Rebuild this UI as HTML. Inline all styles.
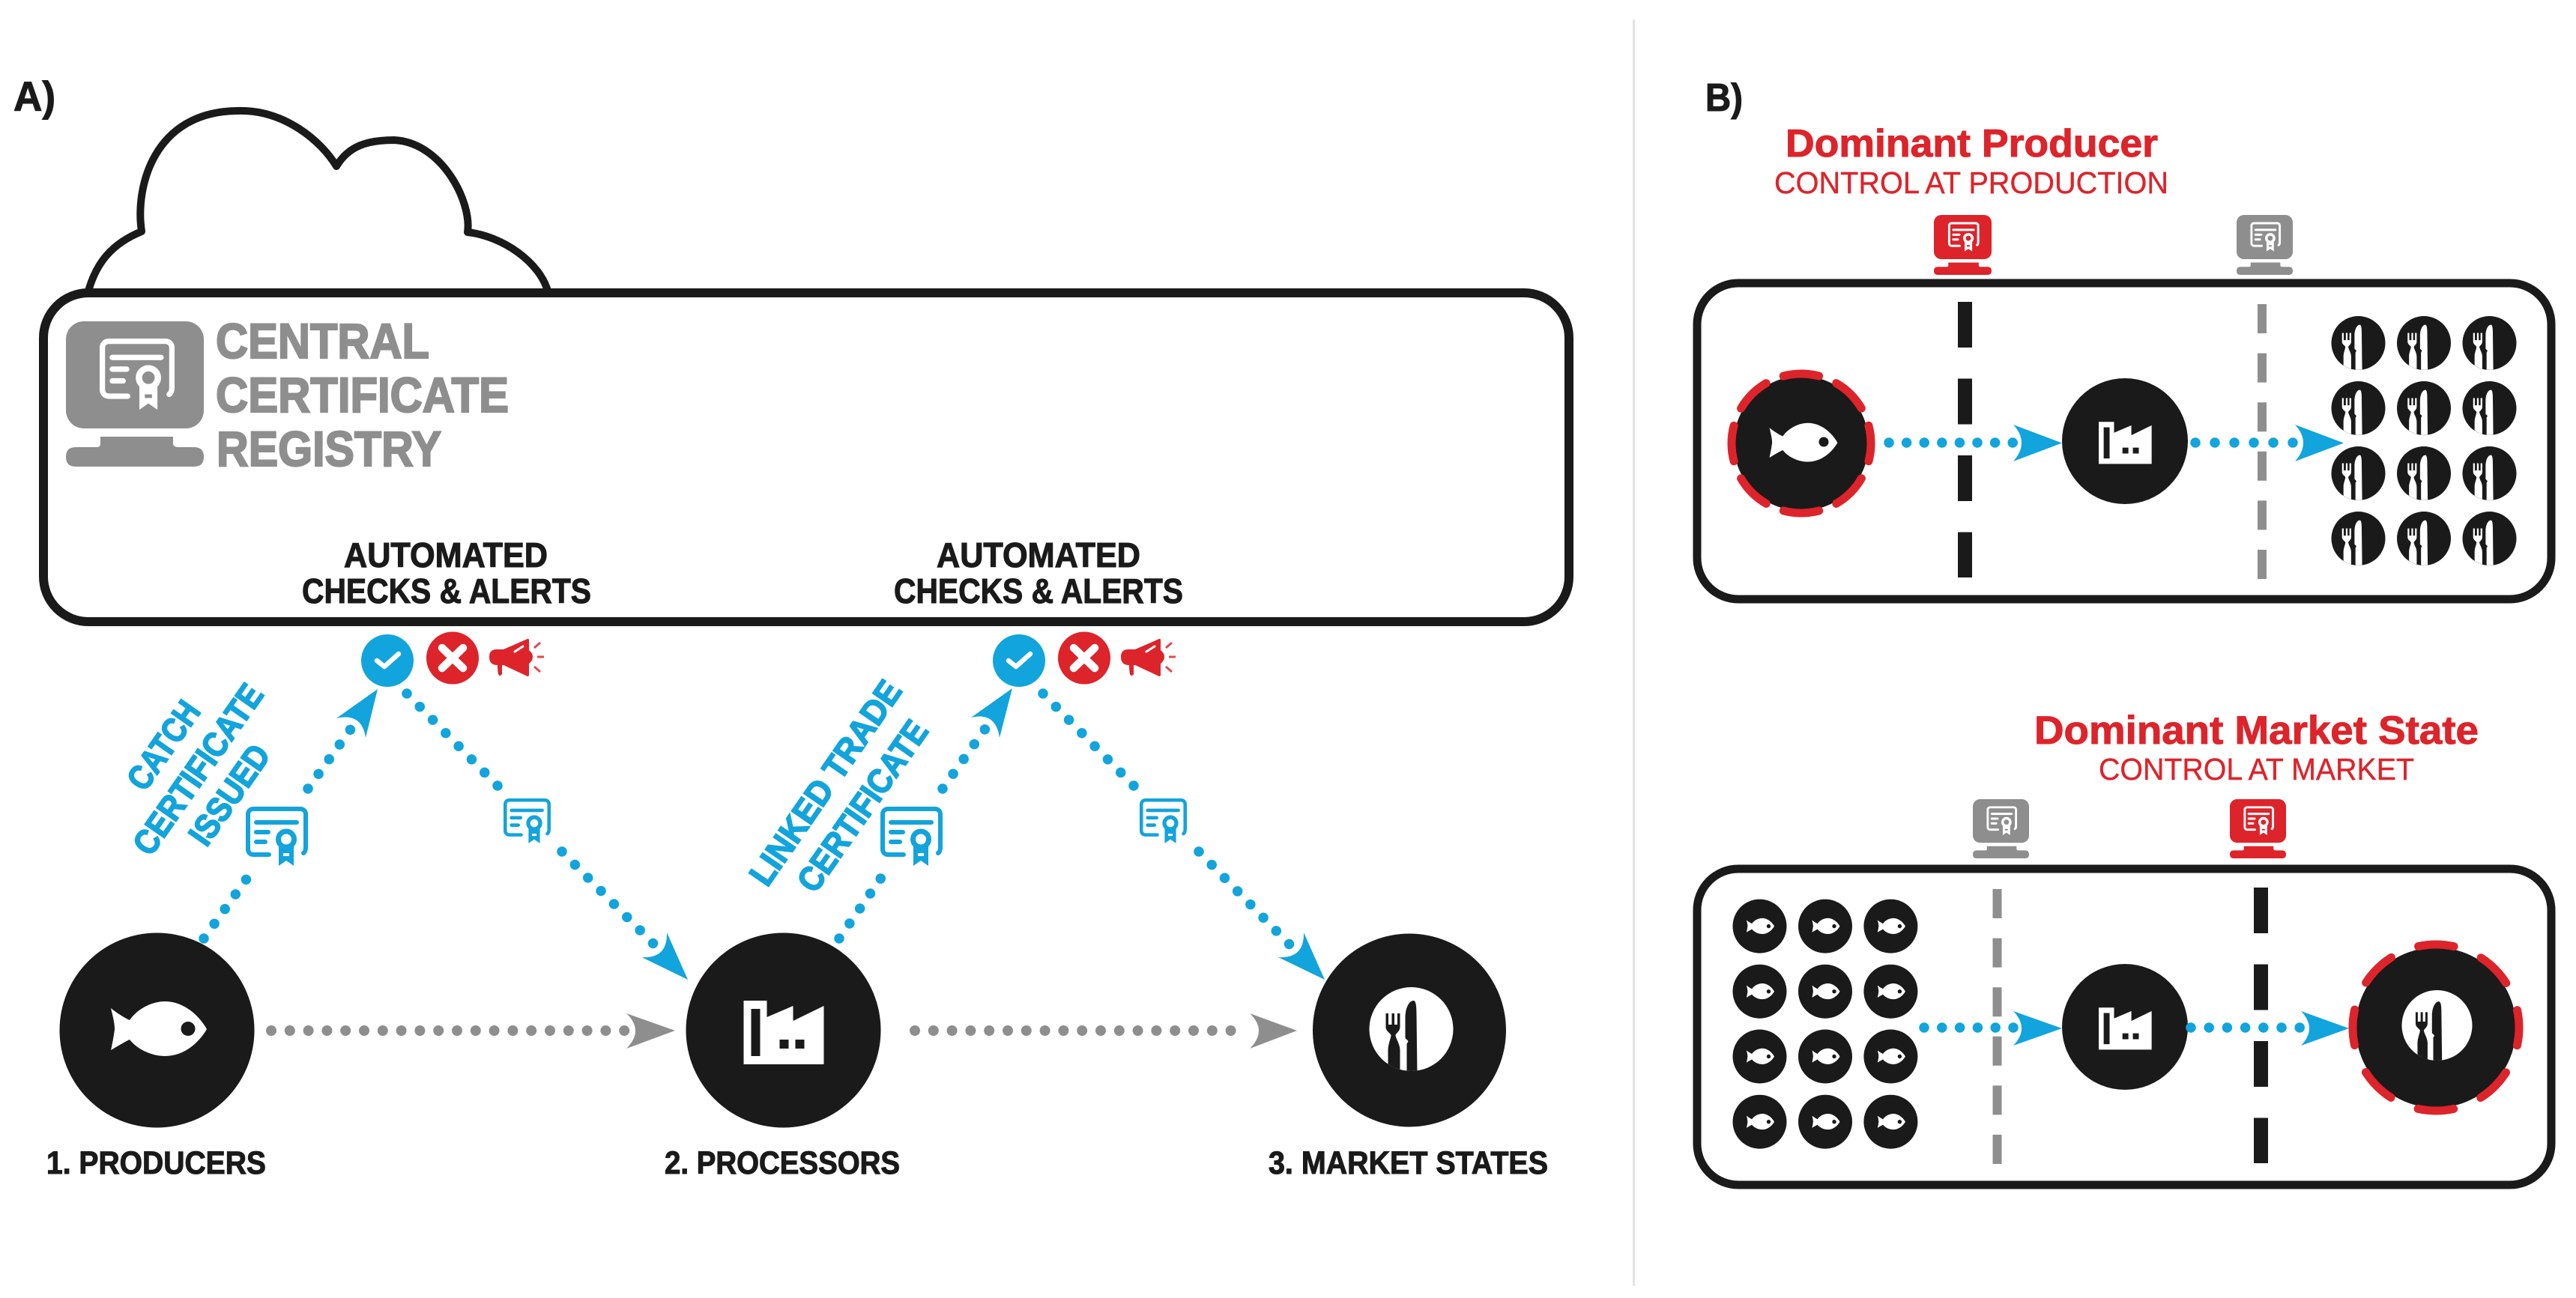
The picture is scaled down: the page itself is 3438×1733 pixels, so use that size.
<!DOCTYPE html>
<html><head><meta charset="utf-8"><style>
html,body{margin:0;padding:0;background:#fff}
svg{display:block}
text{font-family:"Liberation Sans",sans-serif;font-weight:700}
.k{fill:#1b1a1a}.g{fill:#8e8e8e}.b{fill:#12a4dc}.r{fill:#dd242b}
text.k{stroke:#1b1a1a;stroke-width:1.1}
text.g{stroke:#8e8e8e;stroke-width:2.2}
text.r{stroke:#dd242b;stroke-width:1}
text.r.l{stroke-width:.4;font-weight:400}
g.b text{stroke:#12a4dc;stroke-width:1.8}
.db,.dg{fill:none;stroke-linecap:round}
.db{stroke:#12a4dc;stroke-width:13.5}
.dg{stroke:#8e8e8e;stroke-width:14;stroke-dasharray:0 24.8}
</style></head><body>
<svg xmlns="http://www.w3.org/2000/svg" width="3438" height="1733" viewBox="0 0 3438 1733">
<defs>
<clipPath id="pc"><circle cx="0" cy="0" r="56"/></clipPath>
<symbol id="cert" viewBox="0 0 83 79" preserveAspectRatio="none">
<g fill="none" stroke="currentColor" stroke-width="6" stroke-linecap="round">
<path d="M31 64H10a7 7 0 0 1-7-7V10a7 7 0 0 1 7-7H73a7 7 0 0 1 7 7V54q0 6-3 8"/>
<path d="M14 21H68M14 34H30M14 47H26"/>
<circle cx="54" cy="43.5" r="10.5" stroke-width="7"/>
</g>
<path fill="currentColor" fill-rule="evenodd" d="M44 52H64V79L54 72 44 79ZM50 62H58V66H50Z"/>
</symbol>
<symbol id="mon" viewBox="0 0 184 194" preserveAspectRatio="none">
<rect x="0" y="0" width="184" height="143" rx="24" fill="currentColor"/>
<path d="M46 154H143V164Q144 168 150 168H171Q184 168 184 181 184 194 171 194H13Q0 194 0 181 0 168 13 168H40Q46 168 46 164Z" fill="currentColor"/>
<use href="#cert" x="45" y="23" width="100" height="95" color="#fff"/>
</symbol>
<path id="fish" d="M-64-28C-57-22-44-14-39-12-27-29-7-37 8-37 33-37 53-19 64 0 53 19 33 36 8 36-7 36-27 29-39 14-44 16-57 24-64 28-60 11-59 0-59 0-59-9-62-19-64-28Z"/>
<g id="fk" clip-path="url(#pc)">
<path d="M-34-21h3.5v15h4.5v-15h3.5v15h4v-15h3.5V-3C-15 3-20 5-21 8-21 12-15 20-15 28V60H-31V28C-31 20-27 12-27 8-28 5-34 3-34-3Z"/>
<path d="M-8-15C-8-28-3-38 3-38 6-38 7-32 7-20L8 60H-6V20L-4 16-8 12Z"/>
</g>
<g id="fac"><path fill-rule="evenodd" d="M-53-42H-22V-20L13-35V-15L54-35V43H-53ZM-43-31V32H-31V-31ZM-5 10V22H7V10ZM16 10V22H28V10Z"/></g>
<g id="smfk"><circle r="36" fill="#1b1a1a"/><use href="#fk" transform="scale(.64)" fill="#fff"/></g>
<g id="smf"><circle r="36" fill="#1b1a1a"/><use href="#fish" transform="translate(1,0) scale(.29)" fill="#fff"/><circle cx="12" cy="0" r="2.7" fill="#1b1a1a"/></g>
</defs>

<rect x="2179" y="26" width="3" height="1691" fill="#e2e2e2"/>

<!-- Panel A -->
<text class="k" x="18" y="148" font-size="56" textLength="56" lengthAdjust="spacingAndGlyphs">A)</text>
<path d="M117 392C128 350 150 325 189 309 180 250 205 150 315 148 380 145 430 190 449 222 465 195 490 187 526 187 590 190 630 270 624 310 670 315 722 350 732 392" fill="#fff" stroke="#1b1a1a" stroke-width="10" stroke-linejoin="round"/>
<rect x="58" y="391" width="2036" height="439" rx="60" fill="#fff" stroke="#1b1a1a" stroke-width="12"/>

<use href="#mon" x="88" y="429" width="184" height="194" color="#8e8e8e"/>
<text class="g" x="288" y="478" font-size="66" textLength="285" lengthAdjust="spacingAndGlyphs">CENTRAL</text>
<text class="g" x="288" y="550" font-size="66" textLength="391" lengthAdjust="spacingAndGlyphs">CERTIFICATE</text>
<text class="g" x="289" y="622" font-size="66" textLength="300" lengthAdjust="spacingAndGlyphs">REGISTRY</text>

<text class="k" x="459" y="757" font-size="46" textLength="272" lengthAdjust="spacingAndGlyphs">AUTOMATED</text>
<text class="k" x="403" y="805" font-size="46" textLength="386" lengthAdjust="spacingAndGlyphs">CHECKS &amp; ALERTS</text>
<text class="k" x="1250" y="757" font-size="46" textLength="272" lengthAdjust="spacingAndGlyphs">AUTOMATED</text>
<text class="k" x="1193" y="805" font-size="46" textLength="386" lengthAdjust="spacingAndGlyphs">CHECKS &amp; ALERTS</text>

<g id="alerts">
<circle cx="517" cy="882" r="35" fill="#12a4dc"/>
<path d="M503 882L513 890 532 873" fill="none" stroke="#fff" stroke-width="6.5" stroke-linecap="round" stroke-linejoin="round"/>
<circle cx="604" cy="878.5" r="35" fill="#dd242b"/>
<path d="M590 865L618 892M618 865L590 892" fill="none" stroke="#fff" stroke-width="10.5" stroke-linecap="round"/>
<path class="r" d="M663 867H672L704 853Q706 852 706 855V868Q711 872 711 877 711 882 706 886V902Q704 904 702 902L672 888H670V900Q667 904 665 900 664 895 664 888 653 888 653 877 653 867 663 867Z"/>
<path d="M687 870L698 863" stroke="#fff" stroke-width="3" stroke-linecap="round"/>
<path d="M713 865L721 858M717 877H726M713 890L721 897" stroke="#e5484e" stroke-width="3"/>
</g>
<use href="#alerts" x="843" y="0"/>

<!-- nodes -->
<circle cx="209.5" cy="1375.5" r="130" fill="#1b1a1a"/>
<use href="#fish" x="212" y="1374" fill="#fff"/>
<circle cx="251" cy="1373.5" r="9.5" fill="#1b1a1a"/>
<circle cx="1045.5" cy="1375.5" r="130" fill="#1b1a1a"/>
<use href="#fac" x="1045.5" y="1378" fill="#fff"/>
<circle cx="1881" cy="1375.5" r="129" fill="#1b1a1a"/>
<circle cx="1883.5" cy="1374" r="56" fill="#fff"/>
<use href="#fk" x="1883.5" y="1374" fill="#1b1a1a"/>

<text class="k" x="62" y="1567" font-size="43" textLength="293" lengthAdjust="spacingAndGlyphs">1. PRODUCERS</text>
<text class="k" x="887" y="1567" font-size="43" textLength="314" lengthAdjust="spacingAndGlyphs">2. PROCESSORS</text>
<text class="k" x="1693" y="1567" font-size="43" textLength="373" lengthAdjust="spacingAndGlyphs">3. MARKET STATES</text>

<!-- gray connectors -->
<path class="dg" d="M362 1376H835"/>
<path class="g" d="M836 1353L901 1376 836 1400Q860 1376 836 1353Z"/>
<path class="dg" d="M1221 1376H1667"/>
<path class="g" d="M1668 1353L1731 1376 1668 1400Q1692 1376 1668 1353Z"/>

<!-- blue connectors -->
<path class="db" stroke-dasharray="0 24.2" d="M272 1253L329 1173.5"/>
<path class="db" stroke-dasharray="0 24.2" d="M411 1053L468 973.5"/>
<path class="b" d="M504 920L449 959Q483 951 488 985Z"/>
<path class="db" stroke-dasharray="0 24.65" d="M543 926L665 1050"/>
<path class="db" stroke-dasharray="0 24.65" d="M750 1137L873 1261"/>
<path class="b" d="M918 1308L890 1245Q891 1280 856.5 1278Z"/>
<path class="db" stroke-dasharray="0 24.3" d="M1120 1253L1176 1172"/>
<path class="db" stroke-dasharray="0 24.3" d="M1258 1053L1315 973"/>
<path class="b" d="M1351 919L1296 958Q1329 950 1334 985Z"/>
<path class="db" stroke-dasharray="0 24.65" d="M1392 926L1514 1050"/>
<path class="db" stroke-dasharray="0 24.65" d="M1600 1137L1721 1261"/>
<path class="b" d="M1768 1308L1740 1245Q1741 1280 1706 1278Z"/>

<use href="#cert" x="328" y="1077" width="83" height="79" color="#12a4dc"/>
<use href="#cert" x="672" y="1066" width="63" height="60" color="#12a4dc"/>
<use href="#cert" x="1175" y="1077" width="83" height="79" color="#12a4dc"/>
<use href="#cert" x="1521" y="1066" width="63" height="60" color="#12a4dc"/>

<!-- rotated labels -->
<g class="b" font-size="46">
<text transform="translate(218,995) rotate(-55)" y="16" text-anchor="middle" textLength="133" lengthAdjust="spacingAndGlyphs">CATCH</text>
<text transform="translate(264,1027) rotate(-55)" y="16" text-anchor="middle" textLength="266" lengthAdjust="spacingAndGlyphs">CERTIFICATE</text>
<text transform="translate(306,1061) rotate(-55)" y="16" text-anchor="middle" textLength="152" lengthAdjust="spacingAndGlyphs">ISSUED</text>
<text transform="translate(1101.5,1045) rotate(-55.5)" y="16" text-anchor="middle" textLength="320" lengthAdjust="spacingAndGlyphs">LINKED TRADE</text>
<text transform="translate(1151,1076) rotate(-55)" y="16" text-anchor="middle" textLength="267" lengthAdjust="spacingAndGlyphs">CERTIFICATE</text>
</g>

<!-- Panel B top -->
<text class="k" x="2276" y="148" font-size="52" textLength="50" lengthAdjust="spacingAndGlyphs">B)</text>
<text class="r" x="2383" y="209" font-size="52" textLength="497" lengthAdjust="spacingAndGlyphs">Dominant Producer</text>
<text class="r l" x="2368" y="258" font-size="41" textLength="526" lengthAdjust="spacingAndGlyphs">CONTROL AT PRODUCTION</text>
<use href="#mon" x="2581" y="287" width="77" height="80" color="#dd242b"/>
<use href="#mon" x="2985" y="287" width="75" height="80" color="#8e8e8e"/>
<rect x="2265" y="378" width="1140" height="422" rx="55" fill="#fff" stroke="#1b1a1a" stroke-width="11"/>
<path d="M2622.5 403V771" stroke="#1b1a1a" stroke-width="19" stroke-dasharray="61 41.5"/>
<path d="M3019 406V773" stroke="#8e8e8e" stroke-width="12" stroke-dasharray="39 26.6"/>

<circle cx="2404" cy="592" r="90" fill="#1b1a1a"/>
<circle cx="2404" cy="592" r="93" fill="none" stroke="#dd242b" stroke-width="11" stroke-linecap="round" stroke-dasharray="48 25" stroke-dashoffset="24"/>
<use href="#fish" transform="translate(2407,591) scale(.71)" fill="#fff"/>
<circle cx="2434" cy="590" r="6.5" fill="#1b1a1a"/>
<path class="db" stroke-width="12.5" stroke-dasharray="0 23.6" d="M2521 591H2688"/>
<path class="b" d="M2687 567L2752 591.5 2687 616Q2709 591 2687 567Z"/>
<circle cx="2836" cy="589" r="84" fill="#1b1a1a"/>
<use href="#fac" transform="translate(2836,591) scale(.66)" fill="#fff"/>
<path class="db" stroke-width="12.5" stroke-dasharray="0 26" d="M2930 591H3061"/>
<path class="b" d="M3063 567L3128 591.5 3063 616Q3085 591 3063 567Z"/>

<g id="fkgrid">
<use href="#smfk" x="3147.5" y="458"/><use href="#smfk" x="3235" y="458"/><use href="#smfk" x="3322.5" y="458"/>
<use href="#smfk" x="3147.5" y="545"/><use href="#smfk" x="3235" y="545"/><use href="#smfk" x="3322.5" y="545"/>
<use href="#smfk" x="3147.5" y="632"/><use href="#smfk" x="3235" y="632"/><use href="#smfk" x="3322.5" y="632"/>
<use href="#smfk" x="3147.5" y="719"/><use href="#smfk" x="3235" y="719"/><use href="#smfk" x="3322.5" y="719"/>
</g>

<!-- Panel B bottom -->
<text class="r" x="2715" y="993" font-size="53" textLength="593" lengthAdjust="spacingAndGlyphs">Dominant Market State</text>
<text class="r l" x="2801" y="1041" font-size="41" textLength="421" lengthAdjust="spacingAndGlyphs">CONTROL AT MARKET</text>
<use href="#mon" x="2633" y="1067" width="75" height="79" color="#8e8e8e"/>
<use href="#mon" x="2976" y="1067" width="75" height="79" color="#dd242b"/>
<rect x="2265" y="1160" width="1140" height="422" rx="55" fill="#fff" stroke="#1b1a1a" stroke-width="11"/>
<path d="M2665.5 1187V1554" stroke="#8e8e8e" stroke-width="12" stroke-dasharray="39 26.6"/>
<path d="M3017.5 1185V1553" stroke="#1b1a1a" stroke-width="19" stroke-dasharray="61 41.5"/>

<g>
<use href="#smf" x="2348.5" y="1236.6"/><use href="#smf" x="2436" y="1236.6"/><use href="#smf" x="2523.4" y="1236.6"/>
<use href="#smf" x="2348.5" y="1323.7"/><use href="#smf" x="2436" y="1323.7"/><use href="#smf" x="2523.4" y="1323.7"/>
<use href="#smf" x="2348.5" y="1410.5"/><use href="#smf" x="2436" y="1410.5"/><use href="#smf" x="2523.4" y="1410.5"/>
<use href="#smf" x="2348.5" y="1497.7"/><use href="#smf" x="2436" y="1497.7"/><use href="#smf" x="2523.4" y="1497.7"/>
</g>
<path class="db" stroke-width="12.5" stroke-dasharray="0 23.8" d="M2568 1372H2688"/>
<path class="b" d="M2687 1350L2752 1373 2687 1396Q2709 1373 2687 1350Z"/>
<circle cx="2836" cy="1371" r="84" fill="#1b1a1a"/>
<use href="#fac" transform="translate(2836,1373) scale(.66)" fill="#fff"/>
<path class="db" stroke-width="12.5" stroke-dasharray="0 24.2" d="M2924 1372H3071"/>
<path class="b" d="M3071 1350L3135 1373 3071 1396Q3093 1373 3071 1350Z"/>
<circle cx="3251" cy="1372" r="107" fill="#1b1a1a"/>
<circle cx="3251" cy="1372" r="111" fill="none" stroke="#dd242b" stroke-width="11" stroke-linecap="round" stroke-dasharray="48 39.2" stroke-dashoffset="24"/>
<circle cx="3252.5" cy="1369" r="47" fill="#fff"/>
<use href="#fk" transform="translate(3252.5,1369) scale(.84)" fill="#1b1a1a"/>
</svg>
</body></html>
